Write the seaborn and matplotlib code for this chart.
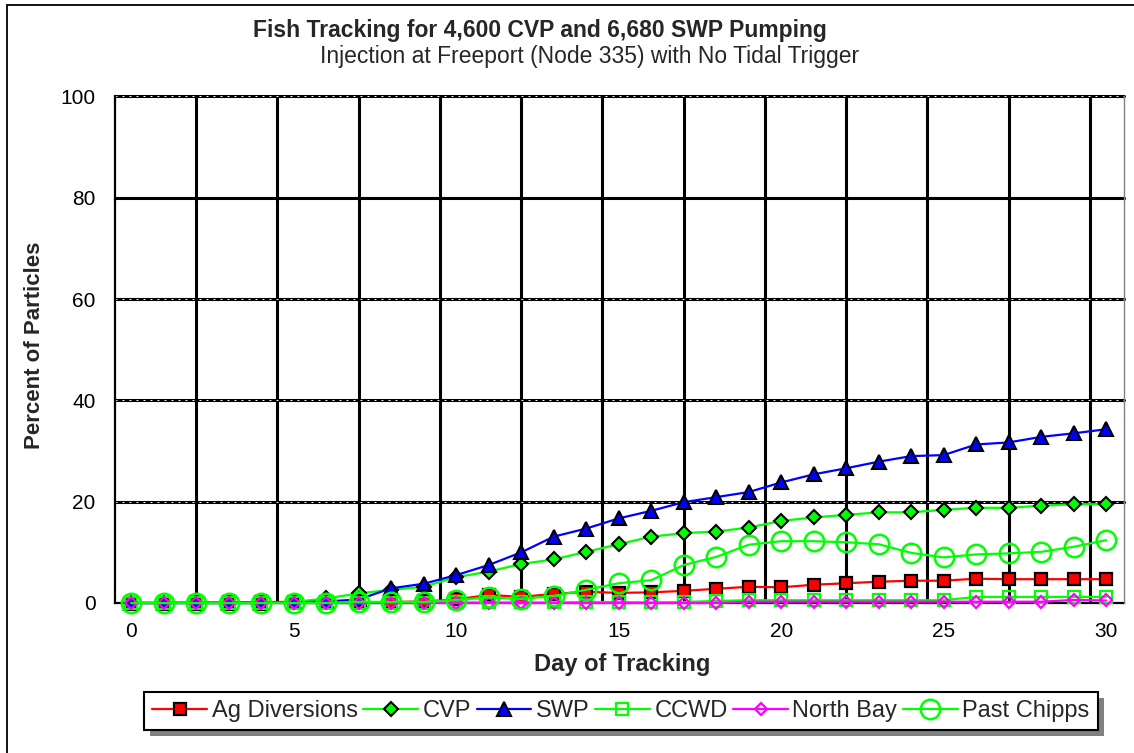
import matplotlib
matplotlib.use("Agg")
import matplotlib.pyplot as plt
from matplotlib.patches import Rectangle
import seaborn as sns
import pandas as pd

days = [0, 1, 2, 3, 4, 5, 6, 7, 8, 9, 10, 11, 12, 13, 14, 15, 16, 17, 18, 19, 20,
        21, 22, 23, 24, 25, 26, 27, 28, 29, 30]
ag_diversions = [0, 0, 0.1, 0.1, 0.2, 0.2, 0.2, 0.1, 0.2, 0.3, 0.7, 1.6, 1.2, 1.8, 2.2, 2.0,
                 2.1, 2.4, 2.8, 3.2, 3.1, 3.6, 3.9, 4.2, 4.4, 4.4, 4.8, 4.7, 4.7, 4.7, 4.7]
cvp = [0, 0, 0, 0, 0, 0.2, 0.9, 1.9, 2.6, 3.2, 5.1, 6.2, 7.7, 8.6, 10.1, 11.6,
       13.1, 13.8, 14.1, 14.9, 16.2, 16.9, 17.4, 17.9, 17.9, 18.4, 18.8, 18.8, 19.2, 19.5, 19.5]
swp = [0, 0, 0, 0, 0, 0.1, 0.3, 0.7, 2.9, 3.8, 5.5, 7.5, 10.0, 13.1, 14.7, 16.7,
       18.2, 19.9, 20.9, 21.9, 23.8, 25.4, 26.6, 27.9, 29.0, 29.2, 31.3, 31.7, 32.8, 33.5, 34.3]
ccwd = [0, 0, 0, 0, 0, 0, 0, 0, 0, 0, 0.1, 0.1, 0.1, 0.1, 0.2, 0.2,
        0.1, 0.2, 0.4, 0.55, 0.55, 0.55, 0.55, 0.55, 0.55, 0.55, 1.2, 1.2, 1.2, 1.2, 1.2]
north_bay = [0, 0, 0, 0, 0, 0, 0, 0, 0, 0, 0, 0, 0, 0, 0, 0,
             0, 0, 0, 0.25, 0.25, 0.25, 0.25, 0.25, 0.25, 0.25, 0.25, 0.25, 0.25, 0.6, 0.5]
past_chipps = [0, 0, 0, 0, 0, 0, 0, 0.25, 0.2, 0.2, 0.6, 1.1, 0.8, 1.4, 2.6, 3.9,
               4.5, 7.5, 9.1, 11.5, 12.2, 12.2, 12.0, 11.6, 9.9, 9.0, 9.6, 9.8, 10.1, 11.1, 12.4]

series_names = ["Ag Diversions", "CVP", "SWP", "CCWD", "North Bay", "Past Chipps"]
x_ticks = [0, 5, 10, 15, 20, 25, 30]
y_ticks = [0, 20, 40, 60, 80, 100]

sns.set_style("white")
plt.rcParams["font.family"] = ["Liberation Sans", "DejaVu Sans"]

W, H = 1134, 753
fig = plt.figure(figsize=(W / 100, H / 100), dpi=100)
ax = fig.add_axes([115 / W, 1 - 603 / H, (1124 - 115) / W, (603 - 96.5) / H])

df = pd.DataFrame({"day": days, "Ag Diversions": ag_diversions, "CVP": cvp, "SWP": swp,
                   "CCWD": ccwd, "North Bay": north_bay, "Past Chipps": past_chipps})

styles = {
    "Ag Diversions": dict(color="#FF0000", marker="s", markersize=8.5, markerfacecolor="#FF0000",
                          markeredgecolor="black", markeredgewidth=1.6),
    "CVP": dict(color="#00FF00", marker="D", markersize=7, markerfacecolor="#00FF00",
                markeredgecolor="black", markeredgewidth=1.5),
    "SWP": dict(color="#0000FF", marker="^", markersize=10, markerfacecolor="#0000FF",
                markeredgecolor="black", markeredgewidth=1.5),
    "CCWD": dict(color="#00FF00", marker="s", markersize=8, markerfacecolor="none",
                 markeredgecolor="#00FF00", markeredgewidth=1.6),
    "North Bay": dict(color="#FF00FF", marker="D", markersize=6.5, markerfacecolor="none",
                      markeredgecolor="#FF00FF", markeredgewidth=1.6),
    "Past Chipps": dict(color="#00FF00", marker="o", markersize=14, markerfacecolor="none",
                        markeredgecolor="#00FF00", markeredgewidth=1.8),
}

for name in series_names:
    sns.lineplot(data=df, x="day", y=name, ax=ax, label=name, legend=False,
                 linewidth=1.6, clip_on=False, zorder=3, **styles[name])

ax.set_xlim(-0.5, 30.55)
ax.set_ylim(0, 100)

# vertical grid lines every 2.5 days
for gx in [2.0, 4.5, 7.0, 9.5, 12.0, 14.5, 17.0, 19.5, 22.0, 24.5, 27.0, 29.5]:
    ax.axvline(gx, color="black", linewidth=2.2, zorder=1)
# horizontal grid lines
for gy in [20, 40, 60, 80, 100]:
    ax.axhline(gy, color="black", linewidth=2.2, zorder=1, clip_on=False)
    if gy != 80:
        ax.axhline(gy, color="white", linewidth=0.7, linestyle=(0, (2, 5.2)), zorder=1.5,
                   clip_on=False)

ax.set_xticks(x_ticks)
ax.set_yticks(y_ticks)
ax.tick_params(axis="both", length=0, labelsize=15, colors="black")
ax.tick_params(axis="x", pad=14)
ax.tick_params(axis="y", pad=14)
ax.set_xlabel("")
ax.set_ylabel("")

for s in ["left", "bottom"]:
    ax.spines[s].set_color("black")
    ax.spines[s].set_linewidth(1.6)
    ax.spines[s].set_zorder(2)
ax.spines["top"].set_visible(False)
ax.spines["right"].set_color("#808080")
ax.spines["right"].set_linewidth(1.0)

fig.text(540 / W, 1 - 30 / H, "Fish Tracking for 4,600 CVP and 6,680 SWP Pumping",
         ha="center", va="center", fontsize=16.5, fontweight="bold")
fig.text(590 / W, 1 - 56 / H, "Injection at Freeport (Node 335) with No Tidal Trigger",
         ha="center", va="center", fontsize=16.5)
fig.text(35 / W, 1 - 345 / H, "Percent of Particles", rotation=90, ha="center", va="center",
         fontsize=16, fontweight="bold")
fig.text(622 / W, 1 - 665 / H, "Day of Tracking", ha="center", va="center",
         fontsize=17, fontweight="bold")

handles, labels = ax.get_legend_handles_labels()
leg = fig.legend(handles, labels, loc="center", bbox_to_anchor=(621 / W, 1 - 711 / H),
                 ncol=6, frameon=True, fancybox=False, shadow=False,
                 prop={"size": 17},
                 handlelength=2.3, handletextpad=0.2, columnspacing=0.25,
                 borderpad=0.35, borderaxespad=0)
leg.get_frame().set_edgecolor("black")
leg.get_frame().set_linewidth(1.5)
leg.get_frame().set_facecolor("white")
leg.get_frame().set_alpha(1)
leg.set_zorder(5)

# outer frame of the picture (only left and top edges fall inside the image)
fig.add_artist(Rectangle((7 / W, -0.2), 1.5, 1.2 - 5 / H, transform=fig.transFigure,
                         fill=False, edgecolor="black", linewidth=1.3, zorder=0))

fig.canvas.draw()
bb = leg.get_window_extent()
inv = fig.transFigure.inverted()
(x0, y0) = inv.transform((bb.x0 + 6, bb.y0 - 6))
(x1, y1) = inv.transform((bb.x1 + 6, bb.y1 - 6))
fig.add_artist(Rectangle((x0, y0), x1 - x0, y1 - y0, transform=fig.transFigure,
                         facecolor="#808080", edgecolor="none", zorder=4))

fig.savefig("out.png", dpi=100)
